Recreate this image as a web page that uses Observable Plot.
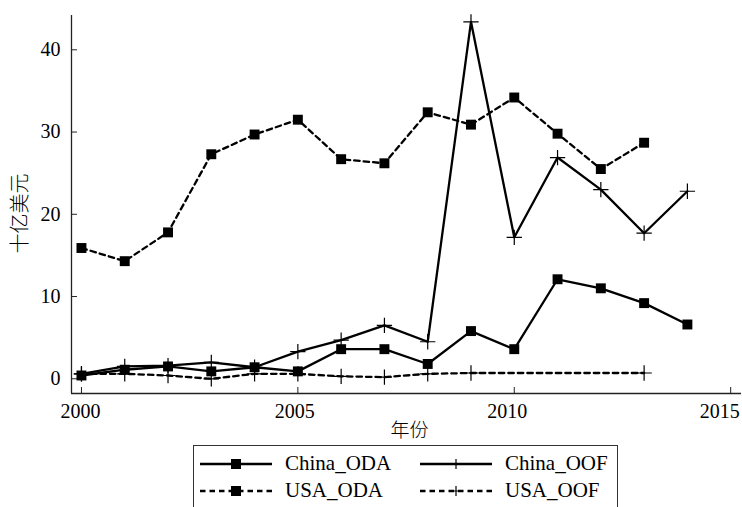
<!DOCTYPE html>
<html><head><meta charset="utf-8">
<script src="https://cdn.jsdelivr.net/npm/d3@7"></script>
<script src="https://cdn.jsdelivr.net/npm/@observablehq/plot@0.6"></script>
<style>
body{margin:0;background:#fff;width:742px;height:507px;overflow:hidden;position:relative;font-family:"Liberation Serif","Times New Roman","DejaVu Serif",serif;}
#chart{position:absolute;left:0;top:0;}
#chart svg text{font-family:"Liberation Serif","Times New Roman","DejaVu Serif",serif;}
#chart svg text.cjk, #chart svg .cjk text{font-family:"Noto Sans CJK SC",sans-serif;}
#legend{position:absolute;left:193px;top:445px;width:425px;height:80px;border:1px solid #333;box-sizing:border-box;background:#fff;}
.item{position:absolute;display:flex;align-items:center;font-size:21px;line-height:21px;color:#000;}
.item svg{margin-right:13px;}
</style></head><body><div id="chart"></div><div id="legend"></div>
<script>
const years = [2000,2001,2002,2003,2004,2005,2006,2007,2008,2009,2010,2011,2012,2013,2014];
const chinaODA = [0.4,1.1,1.5,0.9,1.4,0.9,3.6,3.6,1.8,5.8,3.6,12.1,11.0,9.2,6.6];
const chinaOOF = [0.6,1.5,1.6,2.0,1.4,3.3,4.7,6.5,4.5,43.4,17.2,26.9,23.0,17.7,22.8];
const usaODAYears = [2000,2001,2002,2003,2004,2005,2006,2007,2008,2009,2010,2011,2012,2013];
const usaODA = [15.9,14.3,17.8,27.3,29.7,31.5,26.7,26.2,32.4,30.9,34.2,29.8,25.5,28.7];
const usaOOFYears = [2000,2001,2002,2003,2004,2005,2006,2007,2008,2009,2013];
const usaOOF = [0.6,0.6,0.4,0.0,0.6,0.6,0.3,0.2,0.6,0.7,0.7];
const xTicks = [2000,2005,2010,2015];
const yTicks = [0,10,20,30,40];
const xDomain = [1999.77,2015.25];
const yDomain = [-1.79,44.17];
const yLabel = "十亿美元";
const xLabel = "年份";
const seriesNames = ["China_ODA","China_OOF","USA_ODA","USA_OOF"];

const toRows = (name, xs, vs) => xs.map((x,i)=>({series:name, year:x, value:vs[i]}));
const cODA = toRows("China_ODA", years, chinaODA);
const cOOF = toRows("China_OOF", years, chinaOOF);
const uODA = toRows("USA_ODA", usaODAYears, usaODA);
const uOOF = toRows("USA_OOF", usaOOFYears, usaOOF);

const dash = "5.5,4";
const lw = 2.3;
const xLabelShift = [-1,-3,-7,-11];
const chart = Plot.plot({
  width: 742, height: 440,
  marginLeft: 71, marginRight: 1, marginTop: 15, marginBottom: 47,
  style: {fontFamily: "Liberation Serif, serif", fontSize: "20px", color: "black", background: "white", overflow: "visible"},
  x: {domain: xDomain, ticks: xTicks, tickFormat: d3.format("d"), label: null},
  y: {domain: yDomain, ticks: yTicks, label: null},
  marks: [
    Plot.axisX({ticks: xTicks, tickSize: -6, tickFormat: () => "", label: null, stroke: "#222"}),
    ...xTicks.map((t, i) => Plot.axisX({ticks: [t], tickFormat: d3.format("d"), tickSize: 0, tickPadding: 10, dx: xLabelShift[i], label: null})),
    Plot.axisY({ticks: yTicks, tickSize: -6, tickPadding: 17, label: null, stroke: "#222"}),
    Plot.ruleX([xDomain[0]], {stroke: "#222", strokeWidth: 1.3}),
    Plot.ruleY([yDomain[0]], {stroke: "#222", strokeWidth: 1.3}),
    Plot.line(cODA, {x: "year", y: "value", stroke: "black", strokeWidth: lw}),
    Plot.line(cOOF, {x: "year", y: "value", stroke: "black", strokeWidth: lw}),
    Plot.line(uODA, {x: "year", y: "value", stroke: "black", strokeWidth: lw, strokeDasharray: dash}),
    Plot.line(uOOF, {x: "year", y: "value", stroke: "black", strokeWidth: lw, strokeDasharray: dash}),
    Plot.dot(cODA, {x: "year", y: "value", symbol: "square", r: 5.6, fill: "black", stroke: null}),
    Plot.dot(uODA, {x: "year", y: "value", symbol: "square", r: 5.6, fill: "black", stroke: null}),
    Plot.dot(cOOF, {x: "year", y: "value", symbol: "plus", r: 5, stroke: "black", strokeWidth: 1.2}),
    Plot.dot(uOOF, {x: "year", y: "value", symbol: "plus", r: 5, stroke: "black", strokeWidth: 1.2}),
    Plot.text([yLabel], {text: d => d, frameAnchor: "left", textAnchor: "middle", lineAnchor: "middle", dx: -51, dy: 9, rotate: -90, fontSize: 20, fontWeight: 300, fill: "black", className: "cjk"}),
    Plot.text([xLabel], {text: d => d, frameAnchor: "bottom", textAnchor: "middle", lineAnchor: "middle", dy: 37, dx: 3, fontSize: 19, fontWeight: 300, fill: "black", className: "cjk"})
  ]
});
document.getElementById("chart").append(chart);

// legend
const legend = document.getElementById("legend");
const styles = {
  China_ODA: {dash: null, marker: "square"},
  China_OOF: {dash: null, marker: "plus"},
  USA_ODA: {dash: dash, marker: "square"},
  USA_OOF: {dash: dash, marker: "plus"}
};
const pos = [[6,7],[226,7],[6,34],[226,34]];
seriesNames.forEach((name, i) => {
  const s = styles[name];
  const w = 72, h = 20, cy = 10, cx = 36;
  let marker = s.marker === "square"
    ? `<rect x="${cx-5}" y="${cy-5}" width="10" height="10" fill="black"/>`
    : `<path d="M${cx-5},${cy}H${cx+5}M${cx},${cy-5}V${cy+5}" stroke="black" stroke-width="1.2"/>`;
  const item = document.createElement("div");
  item.className = "item";
  item.style.left = pos[i][0] + "px";
  item.style.top = pos[i][1] + "px";
  item.innerHTML = `<svg width="${w}" height="${h}"><line x1="0" x2="${w}" y1="${cy}" y2="${cy}" stroke="black" stroke-width="${lw}" ${s.dash ? `stroke-dasharray="${s.dash}"` : ""}/>${marker}</svg><span>${name}</span>`;
  legend.append(item);
});
</script>
</body></html>
